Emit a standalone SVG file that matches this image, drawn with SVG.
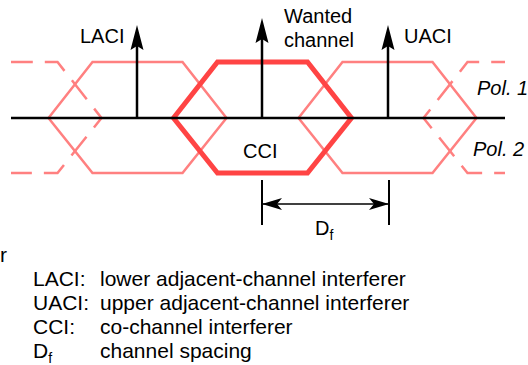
<svg xmlns="http://www.w3.org/2000/svg" width="528" height="365" viewBox="0 0 528 365">
<style>
  text { font-family: "Liberation Sans", Arial, sans-serif; fill: #000; }
  .lbl { font-size: 20px; }
  .leg { font-size: 21px; }
  .pol { font-size: 20px; font-style: italic; }
  .hexl { fill: none; stroke: #ff8080; stroke-width: 2.5; stroke-linejoin: miter; }
  .hexd { fill: none; stroke: #ff8080; stroke-width: 2.5; stroke-dasharray: 24 12; }
  .hexw { fill: none; stroke: #ff4444; stroke-width: 5; stroke-linejoin: miter; }
  .axis { stroke: #000; stroke-width: 2.5; fill: none; }
  .arr { stroke: #000; stroke-width: 2.5; fill: none; marker-end: url(#head); }
  .dim { stroke: #000; stroke-width: 1.5; fill: none; marker-start: url(#dhead); marker-end: url(#dhead); }
  .tick { stroke: #000; stroke-width: 2; }
</style>
<defs>
  <marker id="head" markerUnits="userSpaceOnUse" markerWidth="30" markerHeight="30" refX="0" refY="0" orient="auto" overflow="visible">
    <path d="M10,0 L-15,-6.5 L-11,0 L-15,6.5 Z" fill="#000"/>
  </marker>
  <marker id="dhead" markerUnits="userSpaceOnUse" markerWidth="30" markerHeight="30" refX="0" refY="0" orient="auto-start-reverse" overflow="visible">
    <path d="M0,0 L-20,-6 L-15,0 L-20,6 Z" fill="#000"/>
  </marker>
</defs>

<g id="hex-left-dashed">
  <path class="hexd" style="stroke-dashoffset:2.2" d="M11,62 H57.5 L101.5,118 L57.5,173 H11"/>
</g>
<g id="hex-right-dashed">
  <path class="hexd" style="stroke-dashoffset:10.2" d="M505,62 H467.5 L423.5,118 L467.5,173 H505"/>
</g>
<g id="hex-laci">
  <path class="hexl" d="M48.5,118 L92.5,62 L182.5,62 L226.5,118 L182.5,173 L92.5,173 Z"/>
</g>
<g id="hex-uaci">
  <path class="hexl" d="M298.5,118 L342.5,62 L432.5,62 L476.5,118 L432.5,173 L342.5,173 Z"/>
</g>
<g id="hex-wanted">
  <path class="hexw" d="M173.5,118 L217.5,62 L307.5,62 L351.5,118 L307.5,173 L217.5,173 Z"/>
</g>

<g id="connectors">
  <line class="axis" x1="11" y1="118" x2="505" y2="118"/>
  <line class="arr" x1="137" y1="118" x2="137" y2="35"/>
  <line class="arr" x1="262" y1="118" x2="262" y2="28"/>
  <line class="arr" x1="388" y1="118" x2="388" y2="35"/>
  <line class="tick" x1="262" y1="180" x2="262" y2="225"/>
  <line class="tick" x1="389" y1="180" x2="389" y2="225"/>
  <line class="dim" x1="262" y1="204" x2="389" y2="204"/>
</g>

<g id="labels">
  <text class="lbl" x="80" y="43">LACI</text>
  <text class="lbl" x="284" y="23">Wanted</text>
  <text class="lbl" x="284" y="47">channel</text>
  <text class="lbl" x="404" y="43">UACI</text>
  <text class="lbl" x="243" y="158">CCI</text>
  <text class="pol" x="477" y="95">Pol. 1</text>
  <text class="pol" x="473" y="156">Pol. 2</text>
  <text class="lbl" x="315" y="235">D<tspan font-size="14" dy="5">f</tspan></text>
</g>

<g id="legend">
  <text class="leg" x="0" y="262">r</text>
  <text class="leg" x="33" y="286">LACI:</text>
  <text class="leg" x="100" y="286">lower adjacent-channel interferer</text>
  <text class="leg" x="33" y="310">UACI:</text>
  <text class="leg" x="100" y="310">upper adjacent-channel interferer</text>
  <text class="leg" x="33" y="334">CCI:</text>
  <text class="leg" x="100" y="334">co-channel interferer</text>
  <text class="leg" x="33" y="358">D<tspan font-size="14" dy="5">f</tspan></text>
  <text class="leg" x="100" y="358">channel spacing</text>
</g>
</svg>
